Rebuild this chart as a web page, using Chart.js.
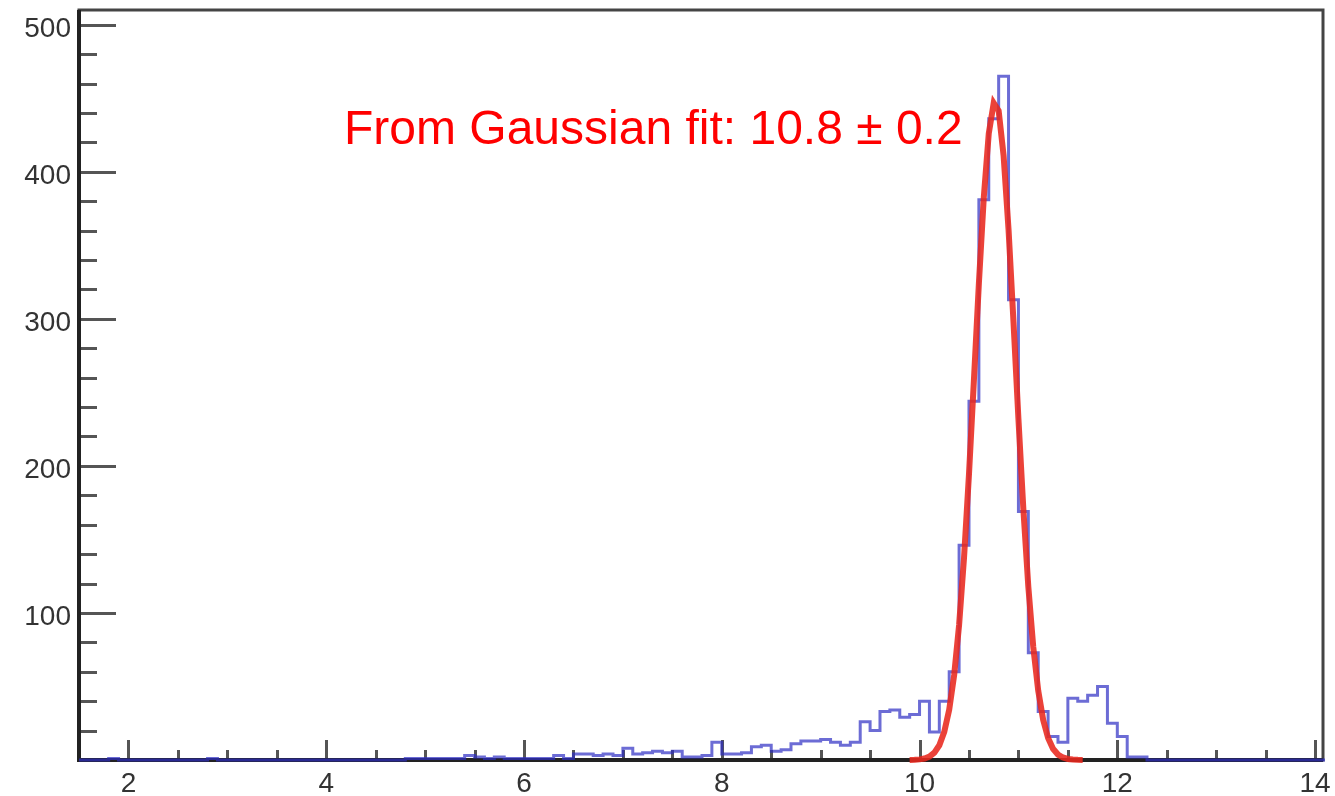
<!DOCTYPE html>
<html>
<head>
<meta charset="utf-8">
<script src="https://cdn.jsdelivr.net/npm/chart.js@4/dist/chart.umd.min.js"></script>
<style>
  html, body { margin: 0; padding: 0; background: #fff; }
  #c { display: block; }
</style>
</head>
<body>
<canvas id="c" width="1335" height="796"></canvas>
<script>
// histogram: 0.1 wide bins starting at 1.5
const binStart = 1.5;
const binWidth = 0.1;
const counts = [
    0, 0, 0, 1, 0, 0, 0, 0, 0, 0,          // 1.5 - 2.4
    0, 0, 0, 1, 0, 0, 0, 0, 0, 0,          // 2.5 - 3.4
    0, 0, 0, 0, 0, 0, 0, 0, 0, 0,          // 3.5 - 4.4
    0, 0, 0, 1, 1, 1, 1, 1, 1, 3,          // 4.5 - 5.4
    2, 1, 2, 1, 1, 1, 1, 1, 3, 1,          // 5.5 - 6.4
    4, 4, 3, 4, 3, 8, 4, 5, 6, 5,          // 6.5 - 7.4
    6, 2, 2, 3, 12, 4, 4, 5, 9, 10,        // 7.5 - 8.4
    6, 7, 11, 13, 13, 14, 12, 10, 12, 26,  // 8.5 - 9.4
    20, 33, 34, 29, 31, 40, 19, 40, 60, 146,        // 9.5 - 10.4
    244, 381, 436, 465, 313, 169, 73, 33, 16, 12,   // 10.5 - 11.4
    42, 40, 44, 50, 25, 16, 2, 2, 0, 0,    // 11.5 - 12.4
    0, 0, 0, 0, 0, 0, 0, 0, 0, 0,          // 12.5 - 13.4
    0, 0, 0, 0, 0, 0                       // 13.5 - 14.0
];

// gaussian fit curve
const fitX = [9.90, 9.95, 10.00, 10.05, 10.10, 10.15, 10.20, 10.25, 10.30, 10.35, 10.40, 10.45,
    10.50, 10.55, 10.60, 10.65, 10.70, 10.75, 10.80, 10.85, 10.90, 10.95, 11.00, 11.05,
    11.10, 11.15, 11.20, 11.25, 11.30, 11.35, 11.40, 11.45, 11.50, 11.55, 11.60, 11.65];
const fitY = [0.06, 0.17, 0.42, 1.0, 2.3, 5.0, 10.0, 19.1, 34.2, 57.7, 91.8, 137.6,
    194.3, 258.5, 324, 382.8, 426, 446.8, 441.5, 411, 360.7, 298, 232, 170.4,
    117.9, 76.8, 47.2, 27.3, 14.9, 7.6, 3.7, 1.7, 0.7, 0.3, 0.1, 0.04];

const xTickLabels = [2, 4, 6, 8, 10, 12, 14];
const yTickLabels = [100, 200, 300, 400, 500];
const fitText = 'From Gaussian fit: 10.8 \u00b1 0.2';

// points sit on the lower bin edges, plus one closing point at the upper edge
const histPoints = counts.map((c, i) => ({ x: binStart + i * binWidth, y: c }));
histPoints.push({ x: binStart + counts.length * binWidth, y: counts[counts.length - 1] });
const fitPoints = fitX.map((x, i) => ({ x: x, y: fitY[i] }));

const labelFont = '28px "Liberation Sans", Arial, sans-serif';

const rootFrame = {
    id: 'rootFrame',
    beforeDatasetsDraw(chart) {
        const { ctx, chartArea: a, scales: { x, y } } = chart;
        ctx.save();
        ctx.lineCap = 'butt';

        // y ticks (inside, pointing right)
        ctx.strokeStyle = '#555';
        ctx.lineWidth = 3;
        for (let v = 20; v <= y.max; v += 20) {
            const py = Math.round(y.getPixelForValue(v)) + 0.5;
            const len = v % 100 === 0 ? 37 : 18;
            ctx.beginPath();
            ctx.moveTo(a.left, py);
            ctx.lineTo(a.left + len, py);
            ctx.stroke();
        }
        // x ticks (inside, pointing up)
        for (let v = 2; v <= 14; v += 0.5) {
            const px = Math.round(x.getPixelForValue(v)) + 0.5;
            const len = v % 2 === 0 ? 20 : 10;
            ctx.beginPath();
            ctx.moveTo(px, a.bottom);
            ctx.lineTo(px, a.bottom - len);
            ctx.stroke();
        }

        // frame
        ctx.strokeStyle = '#444';
        ctx.lineWidth = 3;
        ctx.strokeRect(a.left, a.top, a.right - a.left, a.bottom - a.top);
        ctx.strokeStyle = '#222';
        ctx.lineWidth = 4;
        ctx.beginPath();
        ctx.moveTo(a.left, a.top);
        ctx.lineTo(a.left, a.bottom);
        ctx.lineTo(a.right, a.bottom);
        ctx.stroke();

        // labels
        ctx.fillStyle = '#333';
        ctx.font = labelFont;
        ctx.textBaseline = 'alphabetic';
        ctx.textAlign = 'right';
        yTickLabels.forEach(v => {
            ctx.fillText(String(v), a.left - 8, y.getPixelForValue(v) + 12);
        });
        ctx.textAlign = 'center';
        xTickLabels.forEach(v => {
            ctx.fillText(String(v), x.getPixelForValue(v), a.bottom + 32);
        });
        ctx.restore();
    },
    afterDatasetsDraw(chart) {
        const { ctx, chartArea: a } = chart;
        ctx.save();
        ctx.fillStyle = '#ff0000';
        ctx.font = '48px "Liberation Sans", Arial, sans-serif';
        ctx.textAlign = 'left';
        ctx.textBaseline = 'alphabetic';
        ctx.fillText(fitText, 344, a.top + 134);
        ctx.restore();
    }
};

new Chart(document.getElementById('c'), {
    type: 'line',
    data: {
        datasets: [
            {
                label: 'fit',
                data: fitPoints,
                borderColor: 'rgba(232, 40, 30, 0.88)',
                borderWidth: 6,
                pointRadius: 0,
                tension: 0,
                fill: false,
                clip: 6,
                order: 1
            },
            {
                label: 'histogram',
                data: histPoints,
                stepped: 'before',
                borderColor: 'rgba(45, 45, 195, 0.7)',
                borderWidth: 3,
                pointRadius: 0,
                fill: false,
                clip: 4,
                order: 2
            }
        ]
    },
    options: {
        responsive: false,
        devicePixelRatio: 1,
        animation: false,
        events: [],
        layout: { padding: { left: 79, top: 10, right: 12, bottom: 36 } },
        scales: {
            x: { type: 'linear', min: 1.5, max: 14.08, display: false },
            y: { type: 'linear', min: 0, max: 510, display: false }
        },
        plugins: {
            legend: { display: false },
            tooltip: { enabled: false },
            title: { display: false }
        }
    },
    plugins: [rootFrame]
});
</script>
</body>
</html>
